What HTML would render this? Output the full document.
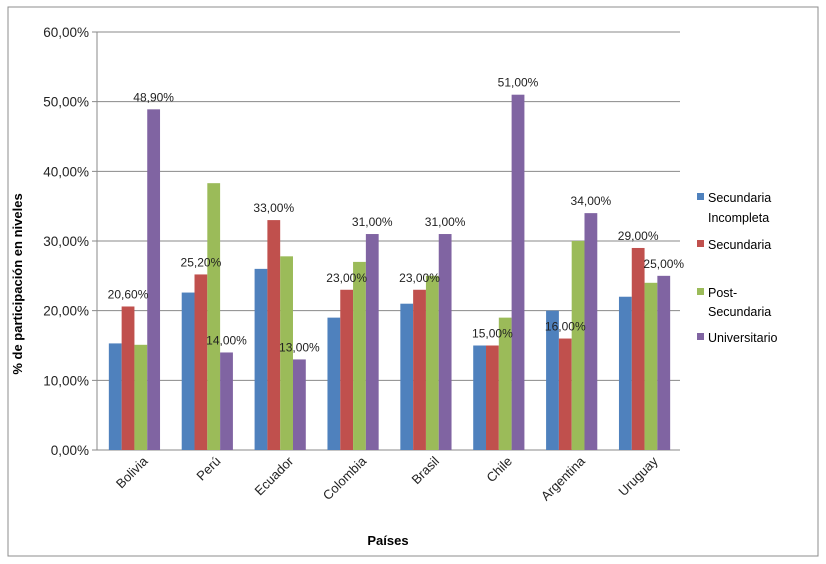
<!DOCTYPE html>
<html><head><meta charset="utf-8"><style>
body{margin:0;background:#fff;}
svg{display:block;font-family:"Liberation Sans",sans-serif;}
</style></head><body>
<svg id="chart" width="826" height="564">
<rect x="8" y="7" width="810" height="549" fill="#fff" stroke="#8c8c8c" stroke-width="1"/>
<g id="grid"></g><g id="bars"></g><g id="labels"></g>
<text x="18" y="280" transform="rotate(-90 22 280)" text-anchor="middle" font-size="13" font-weight="bold">% de participación  en niveles</text>
<text x="388" y="545" text-anchor="middle" font-size="13" font-weight="bold">Países</text>
<g font-size="12.5">
<rect x="697" y="193" width="7" height="7" fill="#4f81bd"/>
<text x="708" y="202">Secundaria</text>
<text x="708" y="222">Incompleta</text>
<rect x="697" y="240" width="7" height="7" fill="#c0504d"/>
<text x="708" y="249">Secundaria</text>
<rect x="697" y="288" width="7" height="7" fill="#9bbb59"/>
<text x="708" y="297">Post-</text>
<text x="708" y="316">Secundaria</text>
<rect x="697" y="333" width="7" height="7" fill="#8064a2"/>
<text x="708" y="342">Universitario</text>
</g>
</svg>
<script>
const categories=["Bolivia","Perú","Ecuador","Colombia","Brasil","Chile","Argentina","Uruguay"];
const secIncompleta=[15.3,22.6,26,19,21,15,20,22];
const secundaria=[20.6,25.2,33,23,23,15,16,29];
const postSecundaria=[15.1,38.3,27.8,27,25,19,30,24];
const universitario=[48.9,14,13,31,31,51,34,25];
const yTicks=[0,10,20,30,40,50,60];
const yTickLabels=["0,00%","10,00%","20,00%","30,00%","40,00%","50,00%","60,00%"];
const redLabels=["20,60%","25,20%","33,00%","23,00%","23,00%","15,00%","16,00%","29,00%"];
const purpleLabels=["48,90%","14,00%","13,00%","31,00%","31,00%","51,00%","34,00%","25,00%"];

const NS="http://www.w3.org/2000/svg";
const X0=97,X1=680,Y0=450,Y1=32;
const y=v=>Y0-(v/60)*(Y0-Y1);
const gw=(X1-X0)/categories.length;
const bw=12.8;
const gx=i=>X0+gw*i+gw/2+1;
function mk(t,a,p){const e=document.createElementNS(NS,t);for(const k in a)e.setAttribute(k,a[k]);p.appendChild(e);return e;}
const grid=document.getElementById('grid'),bars=document.getElementById('bars'),labels=document.getElementById('labels');
yTicks.forEach((t,i)=>{
  const l=mk('line',{x1:X0-5,x2:X1,y1:y(t),y2:y(t),stroke:'#8a8a8a','stroke-width':1},grid);
  
  
  const tx=mk('text',{x:X0-8,y:y(t)+5,'text-anchor':'end','font-size':13.5,fill:'#222'},grid);
  tx.textContent=yTickLabels[i];
  
  
});
const ax=mk('line',{x1:X0,x2:X0,y1:Y1,y2:Y0,stroke:'#8a8a8a'},grid);


const series=[secIncompleta,secundaria,postSecundaria,universitario];
const colors=["#4f81bd","#c0504d","#9bbb59","#8064a2"];
categories.forEach((c,i)=>{
  series.forEach((s,j)=>{
    const bx=gx(i)-2*bw+j*bw;
    const r=mk('rect',{x:bx,y:y(s[i]),width:bw,height:Y0-y(s[i]),fill:colors[j]},bars);
    
    
  });
  const rl=mk('text',{x:gx(i)-bw/2,y:y(secundaria[i])-8,'text-anchor':'middle','font-size':12,fill:'#222'},labels);
  rl.textContent=redLabels[i];
  
  
  const pl=mk('text',{x:gx(i)+1.5*bw,y:y(universitario[i])-8,'text-anchor':'middle','font-size':12,fill:'#222'},labels);
  pl.textContent=purpleLabels[i];
  
  
  const cx=gx(i)+14,cy=Y0+12;
  const cl=mk('text',{x:cx,y:cy,'text-anchor':'end','font-size':13,fill:'#222',transform:`rotate(-45 ${cx} ${cy})`},labels);
  cl.textContent=c;
  
  
});
</script>
</body></html>
